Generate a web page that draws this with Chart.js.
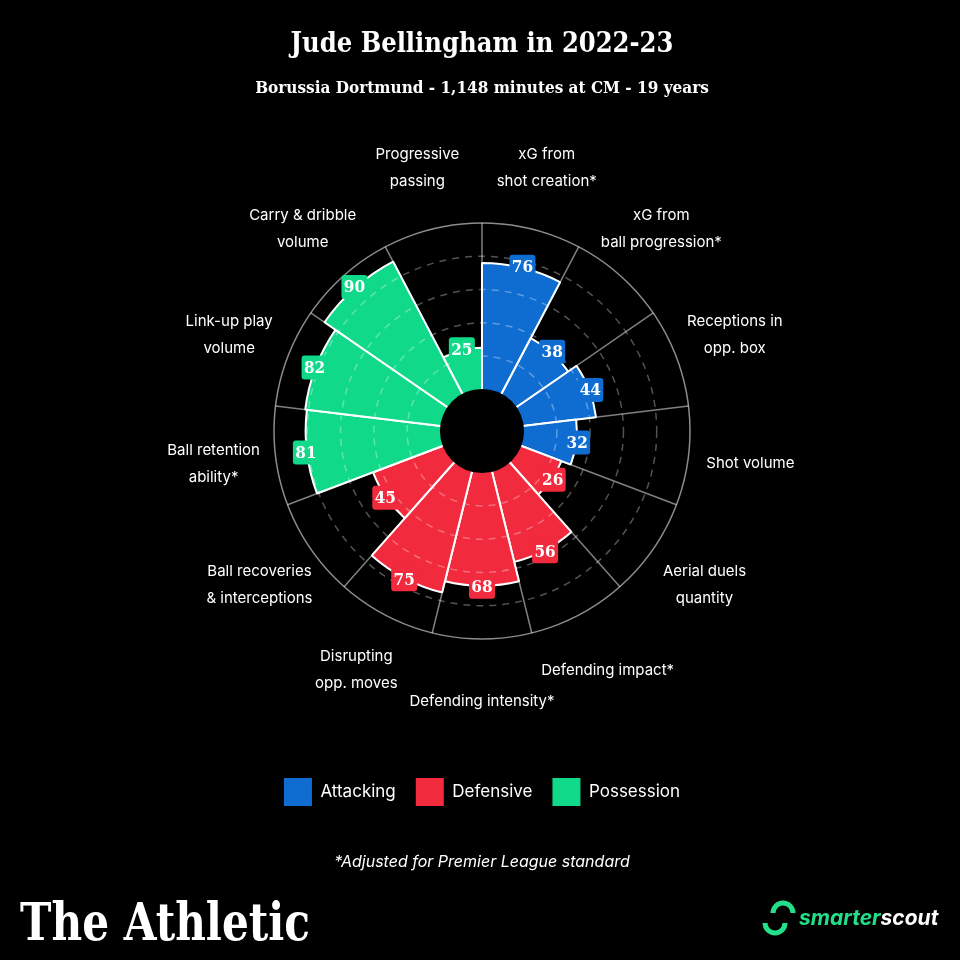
<!DOCTYPE html>
<html>
<head>
<meta charset="utf-8">
<script src="https://cdn.jsdelivr.net/npm/chart.js@4.4.1/dist/chart.umd.min.js"></script>
<style>
  html, body { margin: 0; padding: 0; background: #000; }
  #wrap { position: relative; width: 960px; height: 960px; }
</style>
</head>
<body>
<div id="wrap"><canvas id="chart"></canvas></div>
<script>
// one entry per wedge, clockwise from 12 o'clock
var categories = [
  ['xG from', 'shot creation*'],
  ['xG from', 'ball progression*'],
  ['Receptions in', 'opp. box'],
  ['Shot volume'],
  ['Aerial duels', 'quantity'],
  ['Defending impact*'],
  ['Defending intensity*'],
  ['Disrupting', 'opp. moves'],
  ['Ball recoveries', '& interceptions'],
  ['Ball retention', 'ability*'],
  ['Link-up play', 'volume'],
  ['Carry & dribble', 'volume'],
  ['Progressive', 'passing']
]
var percentiles = [76, 38, 44, 32, 26, 56, 68, 75, 45, 81, 82, 90, 25]
var groups = ['Attacking', 'Attacking', 'Attacking', 'Attacking',
  'Defensive', 'Defensive', 'Defensive', 'Defensive', 'Defensive',
  'Possession', 'Possession', 'Possession', 'Possession']
var groupNames = ['Attacking', 'Defensive', 'Possession']
var groupColors = ['#0f6dd1', '#f22a3d', '#10d98a']
var titleText = 'Jude Bellingham in 2022-23'
var subtitleText = 'Borussia Dortmund - 1,148 minutes at CM - 19 years'
var footnote = '*Adjusted for Premier League standard'

var SLAB = "'DejaVu Serif Condensed', 'DejaVu Serif', serif"
var SANS = "Inter, 'Open Sans', sans-serif"

function colorOf(i) {
  return groupColors[groupNames.indexOf(groups[i])]
}

// black disc over the middle of the wheel
var hole = {
  id: 'hole',
  afterDraw: function (chart) {
    var scale = chart.scales.r
    var ctx = chart.ctx
    ctx.save()
    ctx.fillStyle = '#000'
    ctx.beginPath()
    ctx.arc(scale.xCenter, scale.yCenter, scale.getDistanceFromCenterForValue(0) + 0.5, 0, Math.PI * 2)
    ctx.fill()
    ctx.restore()
  }
}

// category names around the outside
var categoryLabels = {
  id: 'categoryLabels',
  afterDraw: function (chart) {
    var ctx = chart.ctx
    var scale = chart.scales.r
    var meta = chart.getDatasetMeta(0)
    var dist = scale.drawingArea * 1.3
    ctx.save()
    ctx.fillStyle = '#fff'
    ctx.font = '15px ' + SANS
    ctx.textAlign = 'center'
    ctx.textBaseline = 'middle'
    meta.data.forEach(function (arc, i) {
      var p = arc.getProps(['x', 'y', 'startAngle', 'endAngle'], true)
      var a = (p.startAngle + p.endAngle) / 2
      var x = p.x + Math.cos(a) * dist
      var y = p.y + Math.sin(a) * dist
      var lines = categories[i]
      lines.forEach(function (line, j) {
        ctx.fillText(line, x, y + (j - (lines.length - 1) / 2) * 27)
      })
    })
    ctx.restore()
  }
}

// value tags at the tip of each wedge
var valueTags = {
  id: 'valueTags',
  afterDraw: function (chart) {
    var ctx = chart.ctx
    var meta = chart.getDatasetMeta(0)
    ctx.save()
    ctx.font = 'bold 17px ' + SLAB
    ctx.textAlign = 'center'
    ctx.textBaseline = 'middle'
    meta.data.forEach(function (arc, i) {
      var p = arc.getProps(['x', 'y', 'startAngle', 'endAngle', 'outerRadius'], true)
      var a = (p.startAngle + p.endAngle) / 2
      var cx = p.x + Math.cos(a) * (p.outerRadius + 1)
      var cy = p.y + Math.sin(a) * (p.outerRadius + 1)
      ctx.fillStyle = colorOf(i)
      ctx.beginPath()
      ctx.roundRect(cx - 13, cy - 12, 26, 24, 3)
      ctx.fill()
      ctx.fillStyle = '#fff'
      ctx.fillText(String(percentiles[i]), cx, cy + 1)
    })
    ctx.restore()
  }
}

// footnote and the two logos
var footer = {
  id: 'footer',
  afterDraw: function (chart) {
    var ctx = chart.ctx
    ctx.save()
    ctx.fillStyle = '#fff'
    ctx.textAlign = 'center'
    ctx.textBaseline = 'middle'
    ctx.font = 'italic 16px ' + SANS
    ctx.fillText(footnote, 482, 862)

    ctx.textAlign = 'left'
    ctx.textBaseline = 'alphabetic'
    ctx.font = 'bold 52px ' + SLAB
    var w = ctx.measureText('The Athletic').width
    ctx.translate(20, 940)
    ctx.scale(290 / w, 1)
    ctx.fillText('The Athletic', 0, 0)
    ctx.restore()

    ctx.save()
    ctx.strokeStyle = '#22e08a'
    ctx.lineWidth = 5
    ctx.beginPath()
    ctx.arc(783, 913, 10, Math.PI, 0)
    ctx.stroke()
    ctx.beginPath()
    ctx.arc(775, 923, 10, 0, Math.PI)
    ctx.stroke()
    ctx.font = 'bold italic 21px ' + SANS
    ctx.textBaseline = 'alphabetic'
    ctx.fillStyle = '#22e08a'
    ctx.fillText('smarter', 799, 925)
    var sw = ctx.measureText('smarter').width
    ctx.fillStyle = '#fff'
    ctx.fillText('scout', 799 + sw, 925)
    ctx.restore()
  }
}

new Chart(document.getElementById('chart'), {
  type: 'polarArea',
  data: {
    labels: categories,
    datasets: [{
      data: percentiles,
      backgroundColor: percentiles.map(function (v, i) { return colorOf(i) }),
      borderColor: '#ffffff',
      borderWidth: 2
    }]
  },
  options: {
    responsive: true,
    maintainAspectRatio: false,
    animation: false,
    layout: { padding: { top: 0, bottom: 144, left: 4, right: 0 } },
    scales: {
      r: {
        min: -25,
        max: 100,
        startAngle: 0,
        ticks: { display: false, stepSize: 20 },
        pointLabels: { display: false },
        angleLines: { display: true, color: 'rgba(255,255,255,0.5)', lineWidth: 1.5 },
        grid: {
          z: 1,
          circular: true,
          lineWidth: 1.5,
          color: function (c) {
            var v = c.tick ? c.tick.value : 0
            if (v <= 0) return 'rgba(0,0,0,0)'
            return v >= 100 ? 'rgba(255,255,255,0.55)' : 'rgba(255,255,255,0.32)'
          }
        },
        border: {
          dash: function (c) {
            return c.tick && c.tick.value >= 100 ? [] : [7, 6]
          }
        }
      }
    },
    plugins: {
      title: {
        display: true,
        text: titleText,
        color: '#fff',
        font: { family: SLAB, size: 27, weight: 'bold' },
        padding: { top: 29, bottom: 10 }
      },
      subtitle: {
        display: true,
        text: subtitleText,
        color: '#fff',
        font: { family: SLAB, size: 17, weight: 'bold' },
        padding: { top: 7, bottom: 125 }
      },
      legend: {
        position: 'bottom',
        onClick: null,
        title: { display: true, text: ' ', font: { size: 10 }, padding: { top: 106, bottom: 0 } },
        labels: {
          color: '#fff',
          font: { family: SANS, size: 17 },
          boxWidth: 28,
          boxHeight: 28,
          padding: 20,
          generateLabels: function () {
            return groupNames.map(function (n, i) {
              return { text: n, fillStyle: groupColors[i], strokeStyle: groupColors[i], lineWidth: 0, fontColor: '#fff', hidden: false }
            })
          }
        }
      },
      tooltip: { enabled: false }
    }
  },
  plugins: [hole, categoryLabels, valueTags, footer]
})
</script>
</body>
</html>
